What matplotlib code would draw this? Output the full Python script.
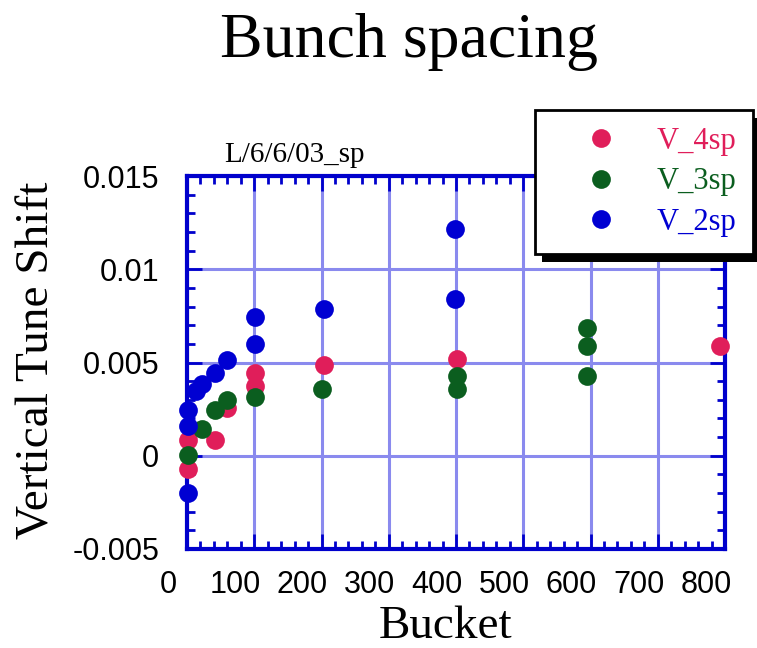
import matplotlib
matplotlib.use("Agg")
import matplotlib.pyplot as plt
from matplotlib.patches import Rectangle
from matplotlib.transforms import ScaledTranslation
from matplotlib.ticker import MultipleLocator

# Data
x_4sp = [2, 2, 41, 60, 101, 101, 203, 402, 793]
v_4sp = [0.00086, -0.0007, 0.00086, 0.00256, 0.00443, 0.00372, 0.00488, 0.00518, 0.00586]

x_3sp = [2, 22, 41, 60, 101, 200, 402, 402, 595, 595, 595]
v_3sp = [0.00005, 0.00143, 0.00243, 0.0030, 0.00314, 0.00357, 0.00425, 0.00357, 0.00684, 0.00586, 0.00429]

x_2sp = [2, 2, 2, 13, 22, 41, 60, 101, 101, 203, 398, 398]
v_2sp = [0.00247, 0.00157, -0.0020, 0.00345, 0.00386, 0.00443, 0.00514, 0.00743, 0.0060, 0.00786, 0.01215, 0.00841]

xticks = [0, 100, 200, 300, 400, 500, 600, 700, 800]
yticks = [-0.005, 0, 0.005, 0.01, 0.015]
ytick_labels = ['-0.005', '0', '0.005', '0.01', '0.015']

red = '#e01e5a'
green = '#0b5e1f'
blue = '#0000d2'
axis_blue = '#0000cc'
grid_blue = '#8a8aee'

serif = 'Liberation Serif'
sans = 'Liberation Sans'

fig = plt.figure(figsize=(7.57, 6.48), dpi=100)
ax = fig.add_axes([187 / 757, 1 - 549 / 648, 538 / 757, 373 / 648])

ms = 13.5
ax.plot(x_4sp, v_4sp, 'o', ms=ms, color=red, mec='none', label='V_4sp', clip_on=False, zorder=3)
ax.plot(x_3sp, v_3sp, 'o', ms=ms, color=green, mec='none', label='V_3sp', clip_on=False, zorder=3)
ax.plot(x_2sp, v_2sp, 'o', ms=ms, color=blue, mec='none', label='V_2sp', clip_on=False, zorder=3)

ax.set_xlim(0, 800)
ax.set_ylim(-0.005, 0.015)
ax.set_xticks(xticks)
ax.set_yticks(yticks, ytick_labels)
ax.xaxis.set_minor_locator(MultipleLocator(20))
ax.yaxis.set_minor_locator(MultipleLocator(0.001))

ax.grid(True, which='major', color=grid_blue, lw=2.2)
ax.set_axisbelow(True)

for sp in ax.spines.values():
    sp.set_color(axis_blue)
    sp.set_linewidth(3)

ax.tick_params(which='both', direction='in', top=True, right=True, color=axis_blue)
ax.tick_params(which='major', length=11, width=2)
ax.tick_params(which='minor', length=6, width=2)
ax.tick_params(axis='x', which='major', pad=15)
ax.tick_params(axis='y', which='major', pad=20)

for lbl in ax.get_xticklabels() + ax.get_yticklabels():
    lbl.set_fontfamily(sans)
    lbl.set_fontsize(22)

# x tick labels sit a bit left of their ticks in the original
shift = ScaledTranslation(-19 / 100, 0, fig.dpi_scale_trans)
for tick in ax.xaxis.get_major_ticks():
    tick.label1.set_transform(tick.label1.get_transform() + shift)

fig.text(408.5 / 757, 1 - 57 / 648, 'Bunch spacing', family=serif, fontsize=46,
         ha='center', va='baseline')
fig.text(224 / 757, 1 - 162 / 648, 'L/6/6/03_sp', family=serif, fontsize=21,
         ha='left', va='baseline')
fig.text(446 / 757, 1 - 638 / 648, 'Bucket', family=serif, fontsize=34,
         ha='center', va='baseline')
fig.text(37 / 757, 1 - 360 / 648, 'Vertical Tune Shift', family=serif, fontsize=34,
         rotation=90, ha='center', va='center')

handles, labels = ax.get_legend_handles_labels()
leg = fig.legend(handles, labels, loc='upper left', bbox_to_anchor=(535 / 757, 1 - 110 / 648),
                 prop={'family': serif, 'size': 22}, fancybox=False, edgecolor='black',
                 framealpha=1, borderpad=0.55, handlelength=3.2, handletextpad=0.22,
                 labelspacing=0.38, borderaxespad=0, numpoints=1)
leg.get_frame().set_linewidth(2)
leg.set_zorder(5)
for txt, c in zip(leg.get_texts(), [red, green, blue]):
    txt.set_color(c)

fig.canvas.draw()
bb = leg.get_window_extent()
shadow = Rectangle((bb.x0 + 7, bb.y0 - 8), bb.width, bb.height, transform=None,
                   facecolor='black', edgecolor='none', zorder=4)
fig.add_artist(shadow)

fig.savefig('out.png', dpi=100)
